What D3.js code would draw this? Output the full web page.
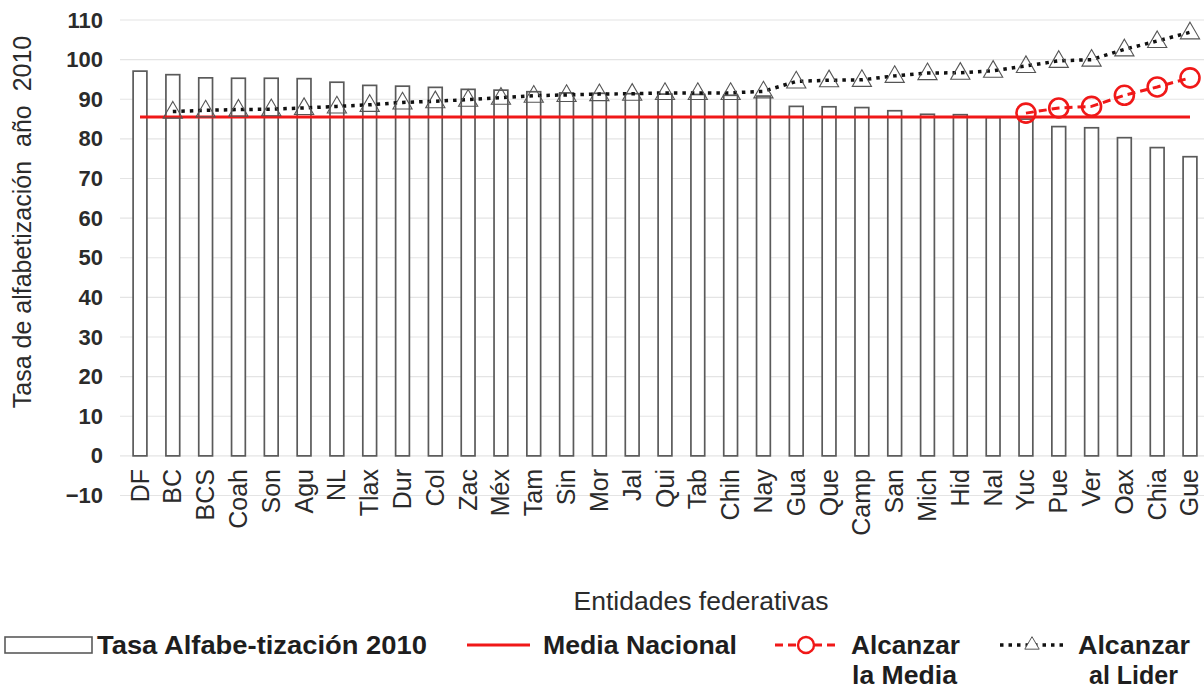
<!DOCTYPE html>
<html><head><meta charset="utf-8">
<script src="https://cdn.jsdelivr.net/npm/d3@7"></script>
<style>
html,body{margin:0;padding:0;background:#fff;}
svg{display:block;font-family:"Liberation Sans",Arial,sans-serif;}
</style></head>
<body>
<svg id="chart" width="1204" height="690"></svg>
<script>
const categories = ["DF","BC","BCS","Coah","Son","Agu","NL","Tlax","Dur","Col","Zac","Méx","Tam","Sin","Mor","Jal","Qui","Tab","Chih","Nay","Gua","Que","Camp","San","Mich","Hid","Nal","Yuc","Pue","Ver","Oax","Chia","Gue"];
const tasa2010 = [97.1,96.2,95.4,95.3,95.3,95.2,94.3,93.5,93.3,93.0,92.5,92.3,91.9,91.6,91.5,91.4,91.3,91.2,91.0,90.8,88.2,88.1,87.9,87.1,86.2,86.1,85.4,85.0,83.1,82.8,80.3,77.8,75.5];
const mediaNacional = 85.5;
const mediaCats = ["Yuc","Pue","Ver","Oax","Chia","Gue"];
const alcanzarMedia = [86.5,87.8,88.2,91.0,93.1,95.4];
const liderCats = categories.slice(1);
const alcanzarLider = [86.9,87.2,87.4,87.5,87.8,88.2,88.6,89.2,89.5,89.9,90.4,90.9,91.1,91.3,91.4,91.6,91.6,91.6,92.0,94.5,94.8,94.9,95.9,96.6,96.7,97.2,98.4,99.7,100.0,102.6,104.7,106.9];
const yTicks = [-10,0,10,20,30,40,50,60,70,80,90,100,110];
const yTitle = "Tasa de alfabetización  año  2010";
const xTitle = "Entidades federativas";
const legendLabels = ["Tasa Alfabe-tización 2010","Media Nacional","Alcanzar|la Media","Alcanzar|al Lider"];

const svg = d3.select("#chart");
const x = d3.scaleBand().domain(categories).range([123.6,1206.4]).paddingInner(0.58).paddingOuter(0.29);
const y = d3.scaleLinear().domain([-10,110]).range([495.5,20]);
const cx = c => x(c) + x.bandwidth()/2;

// gridlines
svg.append("g").selectAll("line").data(yTicks).join("line")
  .attr("x1",120).attr("x2",1204).attr("y1",d=>y(d)).attr("y2",d=>y(d))
  .attr("stroke","#e4e4e4").attr("stroke-width",1.2);

// y axis labels
const yAxis = d3.axisLeft(y).tickValues(yTicks).tickSize(0).tickPadding(0);
const ya = svg.append("g").attr("transform","translate(103,0)").call(yAxis);
ya.select(".domain").remove();
ya.selectAll("text").attr("font-size",22).attr("font-weight","bold").attr("fill","#2b2b2b")
  .attr("font-family","'Liberation Sans',Arial,sans-serif");

// bars
svg.append("g").selectAll("rect").data(categories).join("rect")
  .attr("x",c=>x(c)).attr("width",x.bandwidth())
  .attr("y",(c,i)=>y(tasa2010[i])).attr("height",(c,i)=>y(0)-y(tasa2010[i]))
  .attr("fill","#fff").attr("stroke","#5a5a5a").attr("stroke-width",1.7);

// media nacional line
svg.append("line").attr("x1",cx(categories[0])).attr("x2",cx(categories[categories.length-1]))
  .attr("y1",y(mediaNacional)).attr("y2",y(mediaNacional))
  .attr("stroke","#f01818").attr("stroke-width",3);

// alcanzar al lider
const lineL = d3.line().x((d,i)=>cx(liderCats[i])).y(d=>y(d));
svg.append("path").datum(alcanzarLider).attr("d",lineL).attr("fill","none")
  .attr("stroke","#111").attr("stroke-width",3.5).attr("stroke-dasharray","3.5,5");
const tri = d3.symbol().type(d3.symbolTriangle).size(160);
svg.append("g").selectAll("path").data(alcanzarLider).join("path")
  .attr("d",tri).attr("transform",(d,i)=>`translate(${cx(liderCats[i])},${y(d)+1})`)
  .attr("fill","none").attr("stroke","#555").attr("stroke-width",1.1);

// alcanzar la media
const lineM = d3.line().x((d,i)=>cx(mediaCats[i])).y(d=>y(d));
svg.append("path").datum(alcanzarMedia).attr("d",lineM).attr("fill","none")
  .attr("stroke","#f01818").attr("stroke-width",3).attr("stroke-dasharray","8,5");
svg.append("g").selectAll("circle").data(alcanzarMedia).join("circle")
  .attr("cx",(d,i)=>cx(mediaCats[i])).attr("cy",d=>y(d)).attr("r",9.5)
  .attr("fill","none").attr("stroke","#f01818").attr("stroke-width",2.6);

// x axis labels
const xAxis = d3.axisBottom(x).tickSize(0).tickPadding(0);
const xa = svg.append("g").call(xAxis);
xa.select(".domain").remove();
xa.selectAll(".tick").attr("transform",c=>`translate(${cx(c)},0)`);
xa.selectAll("text").attr("transform","translate(0,469) rotate(-90)")
  .attr("x",0).attr("y",0).attr("dy","0.34em").attr("text-anchor","end")
  .attr("font-size",25).attr("fill","#2b2b2b").attr("font-family","'Liberation Sans',Arial,sans-serif");

// titles
svg.append("text").attr("transform","translate(22,222) rotate(-90)").attr("dy","0.35em")
  .attr("text-anchor","middle").attr("font-size",25).attr("fill","#2b2b2b")
  .style("white-space","pre").text(yTitle);
svg.append("text").attr("x",701).attr("y",610).attr("text-anchor","middle")
  .attr("font-size",26.5).attr("fill","#2b2b2b").text(xTitle);

// legend
const lg = svg.append("g").attr("font-weight","bold").attr("font-size",25).attr("fill","#1e1e1e");
const fit = (sel,w)=>sel.attr("textLength",w).attr("lengthAdjust","spacingAndGlyphs");
lg.append("rect").attr("x",5).attr("y",637).attr("width",87).attr("height",16)
  .attr("fill","#fff").attr("stroke","#5a5a5a").attr("stroke-width",1.6);
fit(lg.append("text").attr("x",97).attr("y",654).text(legendLabels[0]),330);
lg.append("line").attr("x1",467).attr("x2",530).attr("y1",645).attr("y2",645)
  .attr("stroke","#f01818").attr("stroke-width",3);
fit(lg.append("text").attr("x",543).attr("y",654).text(legendLabels[1]),194);
lg.append("line").attr("x1",775).attr("x2",838).attr("y1",645).attr("y2",645)
  .attr("stroke","#f01818").attr("stroke-width",3).attr("stroke-dasharray","8,5");
lg.append("circle").attr("cx",806).attr("cy",645).attr("r",8).attr("fill","#fff")
  .attr("stroke","#f01818").attr("stroke-width",2.4);
const l3 = legendLabels[2].split("|");
fit(lg.append("text").attr("x",851).attr("y",654).text(l3[0]),109);
fit(lg.append("text").attr("x",852).attr("y",684).text(l3[1]),105);
lg.append("line").attr("x1",1000).attr("x2",1065).attr("y1",645).attr("y2",645)
  .attr("stroke","#111").attr("stroke-width",3.5).attr("stroke-dasharray","3.5,5");
lg.append("path").attr("d",d3.symbol().type(d3.symbolTriangle).size(90)).attr("transform","translate(1032,645)")
  .attr("fill","#fff").attr("stroke","#555").attr("stroke-width",1);
const l4 = legendLabels[3].split("|");
fit(lg.append("text").attr("x",1078).attr("y",654).text(l4[0]),112);
fit(lg.append("text").attr("x",1089).attr("y",684).text(l4[1]),89);
</script>
</body></html>
